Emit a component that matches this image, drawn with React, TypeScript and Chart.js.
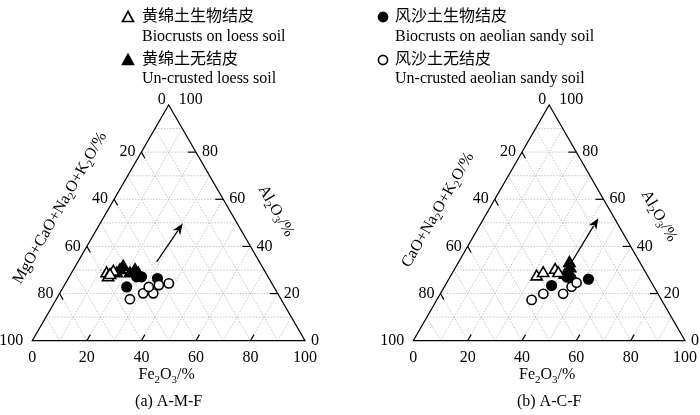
import React, { useEffect, useRef } from 'react';
import { Chart, registerables } from 'chart.js';

Chart.register(...registerables);

// Each point: [Al2O3, (MgO+)CaO+Na2O+K2O, Fe2O3] in %
type T3 = [number, number, number];

const TICK_VALUES = [0, 20, 40, 60, 80, 100];
const INNER_TICKS = [20, 40, 60, 80];
const GRID_VALUES = [10, 20, 30, 40, 50, 60, 70, 80, 90];

// ---- Panel (a) A-M-F ----
const amfBiocrustLoess: T3[] = [
  [28.5, 58.5, 13.0], [26.8, 58.8, 14.4], [29.2, 55.7, 15.1], [27.8, 57.6, 14.6],
];
const amfUncrustedLoess: T3[] = [
  [31.3, 51.0, 17.7], [29.9, 52.9, 17.2], [28.5, 54.8, 16.7],
  [29.9, 47.4, 22.7], [28.5, 46.9, 24.6], [28.5, 49.9, 21.6],
];
const amfBiocrustAeolian: T3[] = [
  [22.8, 54.0, 23.2], [27.1, 48.2, 24.7], [27.1, 46.4, 26.5], [26.4, 40.9, 32.7],
];
const amfUncrustedAeolian: T3[] = [
  [17.6, 55.4, 27.0], [20.1, 49.3, 30.6], [20.1, 45.6, 34.3],
  [22.8, 45.9, 31.3], [23.6, 41.8, 34.6], [24.3, 37.8, 37.9],
];
const amfArrow: T3[] = [[33.4, 37.7, 28.9], [49.7, 20.0, 30.3]];

// ---- Panel (b) A-C-F ----
const acfBiocrustLoess: T3[] = [
  [27.2, 41.0, 31.8], [28.6, 37.9, 33.5], [30.0, 32.8, 37.2], [28.6, 32.3, 39.1],
];
const acfUncrustedLoess: T3[] = [
  [32.9, 26.1, 41.0], [30.7, 26.9, 42.4], [29.3, 28.3, 42.4], [27.9, 30.2, 41.9],
];
const acfBiocrustAeolian: T3[] = [
  [23.4, 37.4, 39.2], [26.1, 22.5, 51.4], [27.0, 30.0, 43.0], [26.6, 28.7, 44.7],
];
const acfUncrustedAeolian: T3[] = [
  [17.3, 47.8, 34.9], [19.9, 42.2, 37.9], [19.9, 34.9, 45.2],
  [22.9, 30.3, 46.8], [24.6, 27.6, 47.8],
];
const acfArrow: T3[] = [[33.5, 24.9, 41.6], [52.0, 5.9, 42.1]];

const LEGEND_LOESS = [
  ['黄绵土生物结皮', 'Biocrusts on loess soil'],
  ['黄绵土无结皮', 'Un-crusted loess soil'],
];
const LEGEND_AEOLIAN = [
  ['风沙土生物结皮', 'Biocrusts on aeolian sandy soil'],
  ['风沙土无结皮', 'Un-crusted aeolian sandy soil'],
];

type Part = [string, boolean];
const LEFT_TITLE_A: Part[] = [['MgO+CaO+Na', false], ['2', true], ['O+K', false], ['2', true], ['O/%', false]];
const LEFT_TITLE_B: Part[] = [['CaO+Na', false], ['2', true], ['O+K', false], ['2', true], ['O/%', false]];
const RIGHT_TITLE: Part[] = [['Al', false], ['2', true], ['O', false], ['3', true], ['/%', false]];
const BOTTOM_TITLE: Part[] = [['Fe', false], ['2', true], ['O', false], ['3', true], ['/%', false]];

const SERIF = "'Liberation Serif', 'Noto Sans CJK SC', serif";

const toXY = (p: T3) => ({ x: p[2] + p[0] / 2, y: p[0] });

function drawRich(ctx: CanvasRenderingContext2D, parts: Part[], x: number, y: number, rot: number, size: number) {
  ctx.save();
  ctx.translate(x, y);
  ctx.rotate(rot);
  const subSize = Math.round(size * 0.68);
  let w = 0;
  for (const [t, sub] of parts) {
    ctx.font = `${sub ? subSize : size}px ${SERIF}`;
    w += ctx.measureText(t).width;
  }
  let cx = -w / 2;
  ctx.textAlign = 'left';
  ctx.textBaseline = 'middle';
  ctx.fillStyle = '#000';
  for (const [t, sub] of parts) {
    ctx.font = `${sub ? subSize : size}px ${SERIF}`;
    ctx.fillText(t, cx, sub ? size * 0.3 : 0);
    cx += ctx.measureText(t).width;
  }
  ctx.restore();
}

interface PanelCfg {
  left: number;
  padding: { left: number; right: number; top: number; bottom: number };
  openTri: T3[];
  fillTri: T3[];
  fillCirc: T3[];
  openCirc: T3[];
  arrow: T3[];
  leftTitle: Part[];
  leftTitlePos: [number, number];
  rightTitlePos: [number, number];
  caption: string;
  legendKind: 'tri' | 'circ';
  legendMarkerX: number;
  legendTextX: number;
  legendRows: string[][];
}

function makePlugin(cfg: PanelCfg) {
  return {
    id: 'ternary',
    beforeDatasetsDraw(chart: any) {
      const ctx: CanvasRenderingContext2D = chart.ctx;
      const xs = chart.scales.x;
      const ys = chart.scales.y;
      const P = (a: number, f: number): [number, number] => [xs.getPixelForValue(f + a / 2), ys.getPixelForValue(a)];
      const line = (p: [number, number], q: [number, number]) => {
        ctx.beginPath();
        ctx.moveTo(p[0], p[1]);
        ctx.lineTo(q[0], q[1]);
        ctx.stroke();
      };
      ctx.save();
      // grid
      ctx.strokeStyle = '#b5b5b5';
      ctx.lineWidth = 0.8;
      ctx.setLineDash([1.5, 1.5]);
      for (const k of GRID_VALUES) {
        line(P(k, 0), P(k, 100 - k));
        line(P(0, k), P(100 - k, k));
        line(P(0, 100 - k), P(100 - k, 0));
      }
      ctx.setLineDash([]);
      // edges
      ctx.strokeStyle = '#000';
      ctx.lineWidth = 1.2;
      ctx.beginPath();
      const v1 = P(0, 0), v2 = P(0, 100), v3 = P(100, 0);
      ctx.moveTo(v1[0], v1[1]);
      ctx.lineTo(v2[0], v2[1]);
      ctx.lineTo(v3[0], v3[1]);
      ctx.closePath();
      ctx.stroke();
      // inner ticks
      const tick = (p: [number, number], q: [number, number], len: number) => {
        const dx = q[0] - p[0], dy = q[1] - p[1];
        const d = Math.hypot(dx, dy);
        line(p, [p[0] + (dx / d) * len, p[1] + (dy / d) * len]);
      };
      for (const k of INNER_TICKS) {
        tick(P(0, k), P(100 - k, k), 7);
        tick(P(k, 100 - k), P(k, 0), 8);
        tick(P(100 - k, 0), P(0, 100 - k), 7);
      }
      // tick labels
      ctx.fillStyle = '#000';
      ctx.font = `16px ${SERIF}`;
      ctx.textBaseline = 'middle';
      for (const k of TICK_VALUES) {
        // bottom: Fe2O3
        const b = P(0, k);
        ctx.textAlign = 'center';
        ctx.fillText(String(k), b[0], b[1] + 17);
        // right: Al2O3
        const r = P(k, 100 - k);
        ctx.textAlign = 'left';
        if (k === 100) ctx.fillText(String(k), r[0] + 10, r[1] - 5);
        else ctx.fillText(String(k), r[0] + 6, r[1]);
        // left: M / C
        const l = P(100 - k, 0);
        ctx.textAlign = 'right';
        if (k === 0) ctx.fillText(String(k), l[0] - 3, l[1] - 5);
        else if (k === 100) ctx.fillText(String(k), l[0] - 9, l[1]);
        else ctx.fillText(String(k), l[0] - 6, l[1]);
      }
      // arrow
      const s = P(cfg.arrow[0][0], cfg.arrow[0][2]);
      const e = P(cfg.arrow[1][0], cfg.arrow[1][2]);
      const ang = Math.atan2(e[1] - s[1], e[0] - s[0]);
      const hl = 11, hw = 4.5;
      const bx = e[0] - Math.cos(ang) * hl, by = e[1] - Math.sin(ang) * hl;
      ctx.lineWidth = 1.3;
      line(s, [bx + Math.cos(ang) * 2, by + Math.sin(ang) * 2]);
      ctx.beginPath();
      ctx.moveTo(e[0], e[1]);
      ctx.lineTo(bx - Math.sin(ang) * hw, by + Math.cos(ang) * hw);
      ctx.lineTo(bx + Math.cos(ang) * 3, by + Math.sin(ang) * 3);
      ctx.lineTo(bx + Math.sin(ang) * hw, by - Math.cos(ang) * hw);
      ctx.closePath();
      ctx.fill();
      // titles
      const mid = P(0, 50);
      drawRich(ctx, BOTTOM_TITLE, mid[0] - 2, 375, 0, 16);
      drawRich(ctx, cfg.leftTitle, cfg.leftTitlePos[0], cfg.leftTitlePos[1], -Math.PI / 3, 16);
      drawRich(ctx, RIGHT_TITLE, cfg.rightTitlePos[0], cfg.rightTitlePos[1], Math.PI / 3, 16);
      ctx.font = `16px ${SERIF}`;
      ctx.textAlign = 'center';
      ctx.textBaseline = 'middle';
      ctx.fillText(cfg.caption, mid[0], 402);
      // legend
      const rowsY = [[17, 37], [60, 79]];
      cfg.legendRows.forEach((row, i) => {
        const [yc, ye] = rowsY[i];
        const filled = cfg.legendKind === 'tri' ? i === 1 : i === 0;
        const mx = cfg.legendMarkerX;
        ctx.lineWidth = 1.6;
        ctx.strokeStyle = '#000';
        ctx.fillStyle = filled ? '#000' : '#fff';
        ctx.beginPath();
        if (cfg.legendKind === 'tri') {
          ctx.moveTo(mx, yc - 5.5);
          ctx.lineTo(mx + 5.5, yc + 4.5);
          ctx.lineTo(mx - 5.5, yc + 4.5);
          ctx.closePath();
        } else {
          ctx.arc(mx, yc, 4.6, 0, Math.PI * 2);
        }
        ctx.fill();
        ctx.stroke();
        ctx.fillStyle = '#000';
        ctx.textAlign = 'left';
        ctx.textBaseline = 'middle';
        ctx.font = `16px ${SERIF}`;
        ctx.fillText(row[0], cfg.legendTextX, yc);
        ctx.fillText(row[1], cfg.legendTextX, ye);
      });
      ctx.restore();
    },
  };
}

function Panel({ cfg }: { cfg: PanelCfg }) {
  const ref = useRef<HTMLCanvasElement | null>(null);
  useEffect(() => {
    if (!ref.current) return;
    const ds = (data: T3[], style: string, filled: boolean, r: number) => ({
      data: data.map(toXY),
      pointStyle: style,
      pointRadius: r,
      pointBackgroundColor: filled ? '#000' : '#fff',
      pointBorderColor: '#000',
      pointBorderWidth: 1.6,
      showLine: false,
      clip: false as any,
    });
    const chart = new Chart(ref.current, {
      type: 'scatter',
      data: {
        datasets: [
          ds(cfg.openCirc, 'circle', false, 4.6),
          ds(cfg.openTri, 'triangle', false, 6.5),
          ds(cfg.fillTri, 'triangle', true, 6.5),
          ds(cfg.fillCirc, 'circle', true, 4.8),
        ] as any,
      },
      options: {
        animation: false,
        responsive: false,
        events: [],
        layout: { padding: cfg.padding },
        scales: {
          x: { type: 'linear', min: 0, max: 100, display: false },
          y: { type: 'linear', min: 0, max: 100, display: false },
        },
        plugins: { legend: { display: false }, tooltip: { enabled: false } },
      },
      plugins: [makePlugin(cfg)],
    });
    return () => chart.destroy();
  }, [cfg]);
  return (
    <canvas
      ref={ref}
      width={350}
      height={415}
      style={{ position: 'absolute', left: cfg.left, top: 0, width: 350, height: 415 }}
    />
  );
}

const PANEL_A: PanelCfg = {
  left: 0,
  padding: { left: 32.3, right: 45, top: 105, bottom: 74.3 },
  openTri: amfBiocrustLoess,
  fillTri: amfUncrustedLoess,
  fillCirc: amfBiocrustAeolian,
  openCirc: amfUncrustedAeolian,
  arrow: amfArrow,
  leftTitle: LEFT_TITLE_A,
  leftTitlePos: [60, 208],
  rightTitlePos: [276, 211],
  caption: '(a) A-M-F',
  legendKind: 'tri',
  legendMarkerX: 128,
  legendTextX: 142,
  legendRows: LEGEND_LOESS,
};

const PANEL_B: PanelCfg = {
  left: 350,
  padding: { left: 63.3, right: 15, top: 105, bottom: 74.3 },
  openTri: acfBiocrustLoess,
  fillTri: acfUncrustedLoess,
  fillCirc: acfBiocrustAeolian,
  openCirc: acfUncrustedAeolian,
  arrow: acfArrow,
  leftTitle: LEFT_TITLE_B,
  leftTitlePos: [88, 210],
  rightTitlePos: [309, 216],
  caption: '(b) A-C-F',
  legendKind: 'circ',
  legendMarkerX: 33,
  legendTextX: 45,
  legendRows: LEGEND_AEOLIAN,
};

export default function App() {
  return (
    <div style={{ position: 'absolute', left: 0, top: 0, width: 700, height: 415, background: '#fff' }}>
      <Panel cfg={PANEL_A} />
      <Panel cfg={PANEL_B} />
    </div>
  );
}
